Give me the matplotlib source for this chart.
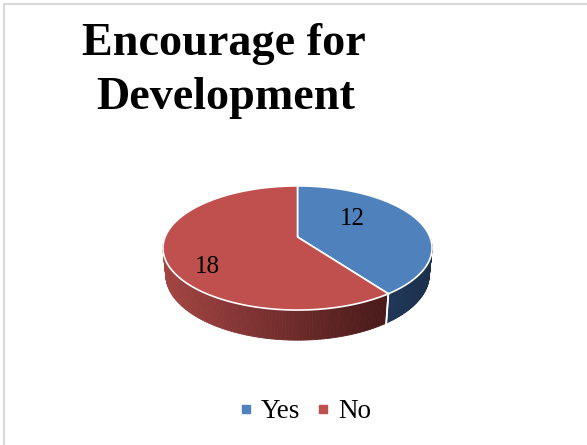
import numpy as np
import matplotlib.pyplot as plt
from matplotlib.patches import Polygon
from matplotlib.collections import PolyCollection
from matplotlib.lines import Line2D

# --- DATA ---
title_lines = ['Encourage for', 'Development']
categories = ['Yes', 'No']
values = [12, 18]
top_colors = ['#4F81BD', '#C0504D']
# side shading: (left colour, right colour) per slice
side_colors = [((0.13, 0.22, 0.35), (0.11, 0.19, 0.30)),
               ((0.64, 0.27, 0.26), (0.28, 0.10, 0.10))]

# --- VIEW (pixel space, perspective tilt) ---
W, H = 587, 445
CX, CY = 297.5, 237.0
FOCAL = 666.0
DIST = 5.03
ELEV = np.deg2rad(27)
DEPTH = 0.228
LABEL_R = [0.54, 0.77]
LABEL_SHIFT = np.deg2rad(18)
SERIF = 'Liberation Serif'


def project(theta, r=1.0, z=0.0):
    X = r * np.cos(theta)
    Y = r * np.sin(theta)
    v = Y * np.sin(ELEV) + z * np.cos(ELEV)
    w = DIST + Y * np.cos(ELEV) - z * np.sin(ELEV)
    return CX + FOCAL * X / w, CY - FOCAL * v / w


fig = plt.figure(figsize=(W / 100, H / 100), dpi=100)
ax = fig.add_axes([0, 0, 1, 1])
ax.set_xlim(0, W)
ax.set_ylim(H, 0)
ax.axis('off')

# chart frame (only top/left edges show)
ax.plot([3.5, 3.5, W + 5], [H + 5, 3.5, 3.5], color='#D9D9D9', lw=1.5,
        solid_joinstyle='miter')

# slice angle ranges, clockwise from 12 o'clock
total = float(sum(values))
bounds = []
start = np.pi / 2
for v in values:
    end = start - 2 * np.pi * v / total
    bounds.append((start, end))
    start = end

# front side walls (visible where sin(theta) < 0)
for (t0, t1), (c_left, c_right) in zip(bounds, side_colors):
    hi = min(t0, 0.0)
    lo = max(t1, -np.pi)
    if hi <= lo:
        continue
    th = np.linspace(lo, hi, 120)
    xt, yt = project(th)
    xb, yb = project(th, z=-DEPTH)
    polys, cols = [], []
    x_min, x_max = xt.min(), xt.max()
    for i in range(len(th) - 1):
        polys.append([(xt[i], yt[i]), (xt[i + 1], yt[i + 1]),
                      (xb[i + 1], yb[i + 1]), (xb[i], yb[i])])
        f = ((xt[i] + xt[i + 1]) / 2 - x_min) / (x_max - x_min)
        cols.append(tuple(np.array(c_left) * (1 - f) + np.array(c_right) * f))
    ax.add_collection(PolyCollection(polys, facecolors=cols, edgecolors=cols,
                                     linewidths=0.6))

# seams between slices on the wall
for t0, t1 in bounds:
    for t in (t0, t1):
        tn = np.arctan2(np.sin(t), np.cos(t))
        if -np.pi < tn < 0:
            x0, y0 = project(tn)
            x1, y1 = project(tn, z=-DEPTH)
            ax.plot([x0, x1], [y0, y1], color='white', lw=1.2)

# top faces
cx0, cy0 = project(0.0, r=0.0)
for (t0, t1), col in zip(bounds, top_colors):
    th = np.linspace(t0, t1, 200)
    xs, ys = project(th)
    pts = [(cx0, cy0)] + list(zip(xs, ys))
    ax.add_patch(Polygon(pts, closed=True, facecolor=col, edgecolor='white',
                         lw=1.2, joinstyle='round'))

# data labels
for (t0, t1), v, r in zip(bounds, values, LABEL_R):
    mid = (t0 + t1) / 2 + LABEL_SHIFT
    lx, ly = project(mid, r=r)
    ax.text(lx, ly, str(v), family=SERIF, fontsize=18, color='black',
            ha='center', va='center')

# title
ax.text(224, 55, title_lines[0], family=SERIF, fontsize=33.2,
        fontweight='bold', ha='center', va='baseline')
ax.text(226, 109, title_lines[1], family=SERIF, fontsize=33.2,
        fontweight='bold', ha='center', va='baseline')

# legend
handles = [Line2D([], [], marker='s', linestyle='', color=c, markersize=5.5)
           for c in top_colors]
ax.legend(handles, categories, loc='center', bbox_to_anchor=(305 / W, 33 / H),
          ncol=2, frameon=False, prop={'family': SERIF, 'size': 19.5},
          handlelength=0.5, handletextpad=0.3, columnspacing=0.6)

fig.savefig('out.png', dpi=100)
